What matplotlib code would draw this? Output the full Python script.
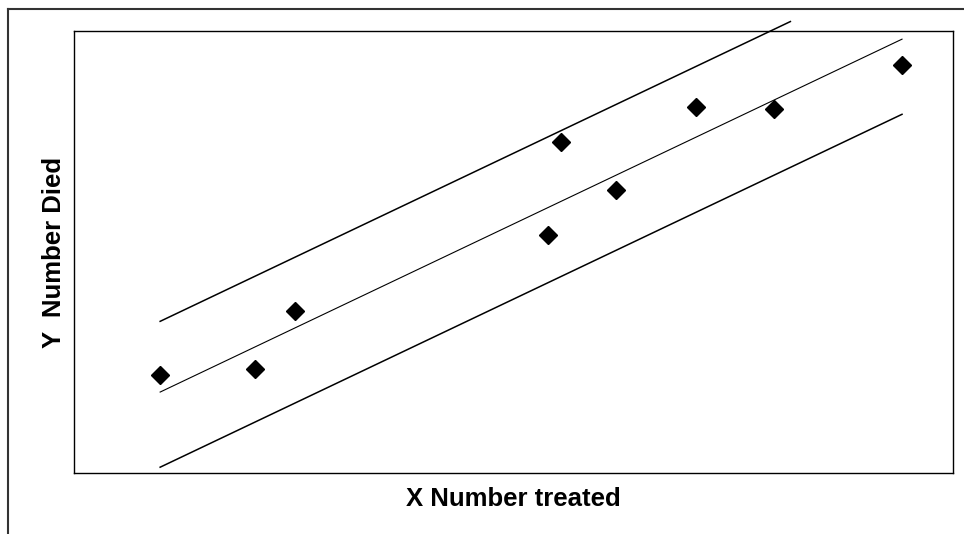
import matplotlib
matplotlib.use("Agg")
import matplotlib.pyplot as plt
from matplotlib.lines import Line2D

plt.rcParams['font.family'] = ['Liberation Sans', 'DejaVu Sans']

# observed points
x_treated = [9.8, 20.6, 25.1, 53.9, 55.4, 61.7, 70.8, 79.6, 94.2]
y_died = [11.1, 11.8, 18.3, 26.9, 37.4, 32.0, 41.4, 41.2, 46.2]

# fitted line and bands
slope = 0.473
intercept = 4.52
fit_x = [9.8, 94.2]
upper_x = [9.8, 81.5]
lower_x = [9.8, 94.2]
upper_off = 8.0
lower_off = -8.5

fig = plt.figure(figsize=(9.64, 5.34), dpi=100)
ax = fig.add_axes([74 / 964, 1 - 473 / 534, 879 / 964, 442 / 534])
ax.set_xlim(0, 100)
ax.set_ylim(0, 50)

ax.plot(fit_x, [intercept + slope * v for v in fit_x], color='black', lw=0.8, clip_on=False)
ax.plot(upper_x, [intercept + slope * v + upper_off for v in upper_x], color='black', lw=1.1, clip_on=False)
ax.plot(lower_x, [intercept + slope * v + lower_off for v in lower_x], color='black', lw=1.1, clip_on=False)
ax.plot(x_treated, y_died, 'D', color='black', markersize=9, zorder=3)

ax.set_xticks([])
ax.set_yticks([])
for s in ax.spines.values():
    s.set_linewidth(1.0)
    s.set_color('black')

ax.set_xlabel('X Number treated', fontsize=18.5, fontweight='bold', labelpad=10)
ax.set_ylabel('Y  Number Died', fontsize=18.5, fontweight='bold', labelpad=6)

# outer frame (top and left edges)
fig.add_artist(Line2D([8 / 964, 1], [1 - 9 / 534, 1 - 9 / 534], color='#333333', lw=1.5, transform=fig.transFigure))
fig.add_artist(Line2D([8 / 964, 8 / 964], [0, 1 - 9 / 534], color='#333333', lw=1.5, transform=fig.transFigure))

fig.savefig('out.png', dpi=100)
